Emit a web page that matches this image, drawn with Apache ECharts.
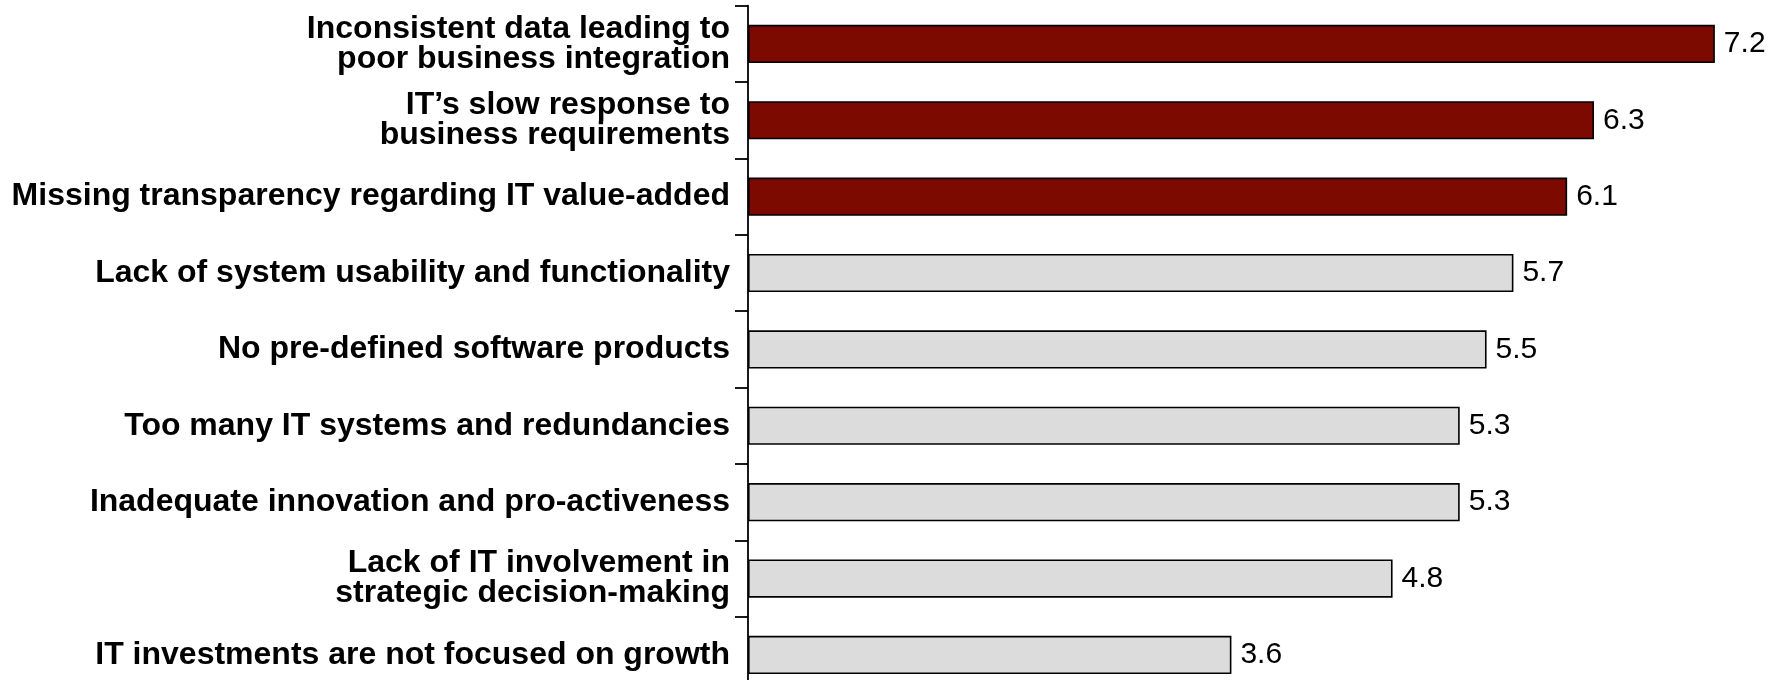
<!DOCTYPE html>
<html>
<head>
<meta charset="utf-8">
<title>IT issues</title>
<script src="https://cdn.jsdelivr.net/npm/echarts@6/dist/echarts.min.js"></script>
<style>
  html, body { margin: 0; padding: 0; background: #ffffff; }
  #chart { width: 1783px; height: 680px; }
</style>
</head>
<body>
<div id="chart"></div>
<script>
// Issue descriptions, listed from the top bar down
const categories = [
  'Inconsistent data leading to\npoor business integration',
  'IT\u2019s slow response to\nbusiness requirements',
  'Missing transparency regarding IT value-added',
  'Lack of system usability and functionality',
  'No pre-defined software products',
  'Too many IT systems and redundancies',
  'Inadequate innovation and pro-activeness',
  'Lack of IT involvement in\nstrategic decision-making',
  'IT investments are not focused on growth'
];

// Average rating per issue
const values = [7.2, 6.3, 6.1, 5.7, 5.5, 5.3, 5.3, 4.8, 3.6];

// The leading issues are drawn in the accent colour
const topIssueCount = 3;

const FONT = "'Liberation Sans', Arial, Helvetica, sans-serif";
const ACCENT = '#7d0a00';
const NEUTRAL = '#dcdcdc';

const chart = echarts.init(document.getElementById('chart'), null, { renderer: 'canvas' });

chart.setOption({
  animation: false,
  backgroundColor: '#ffffff',
  grid: {
    left: 748,
    top: 5.7,
    width: 1034,
    height: 687.4,
    containLabel: false,
    // the last band runs past the bottom edge of the canvas
    outerBoundsMode: 'none'
  },
  xAxis: {
    type: 'value',
    min: 0,
    max: 7.7,
    show: false
  },
  yAxis: {
    type: 'category',
    data: categories,
    inverse: true,
    axisLine: { show: true, lineStyle: { color: '#000000', width: 1.8 } },
    axisTick: { show: true, length: 13, alignWithLabel: false, lineStyle: { color: '#000000', width: 1.8 } },
    axisLabel: {
      margin: 18,
      color: '#000000',
      fontFamily: FONT,
      fontWeight: 'bold',
      fontSize: 32,
      lineHeight: 30,
      align: 'right',
      padding: [0, 0, 6, 0]
    },
    splitLine: { show: false }
  },
  series: [{
    type: 'bar',
    data: values,
    barWidth: '50%',
    itemStyle: {
      color: function (p) { return p.dataIndex < topIssueCount ? ACCENT : NEUTRAL; },
      borderColor: '#000000',
      borderWidth: 1.6
    },
    label: {
      show: true,
      position: 'right',
      distance: 9,
      color: '#000000',
      fontFamily: FONT,
      fontSize: 30,
      formatter: function (p) { return p.value.toFixed(1); }
    },
    silent: true
  }]
});
</script>
</body>
</html>
